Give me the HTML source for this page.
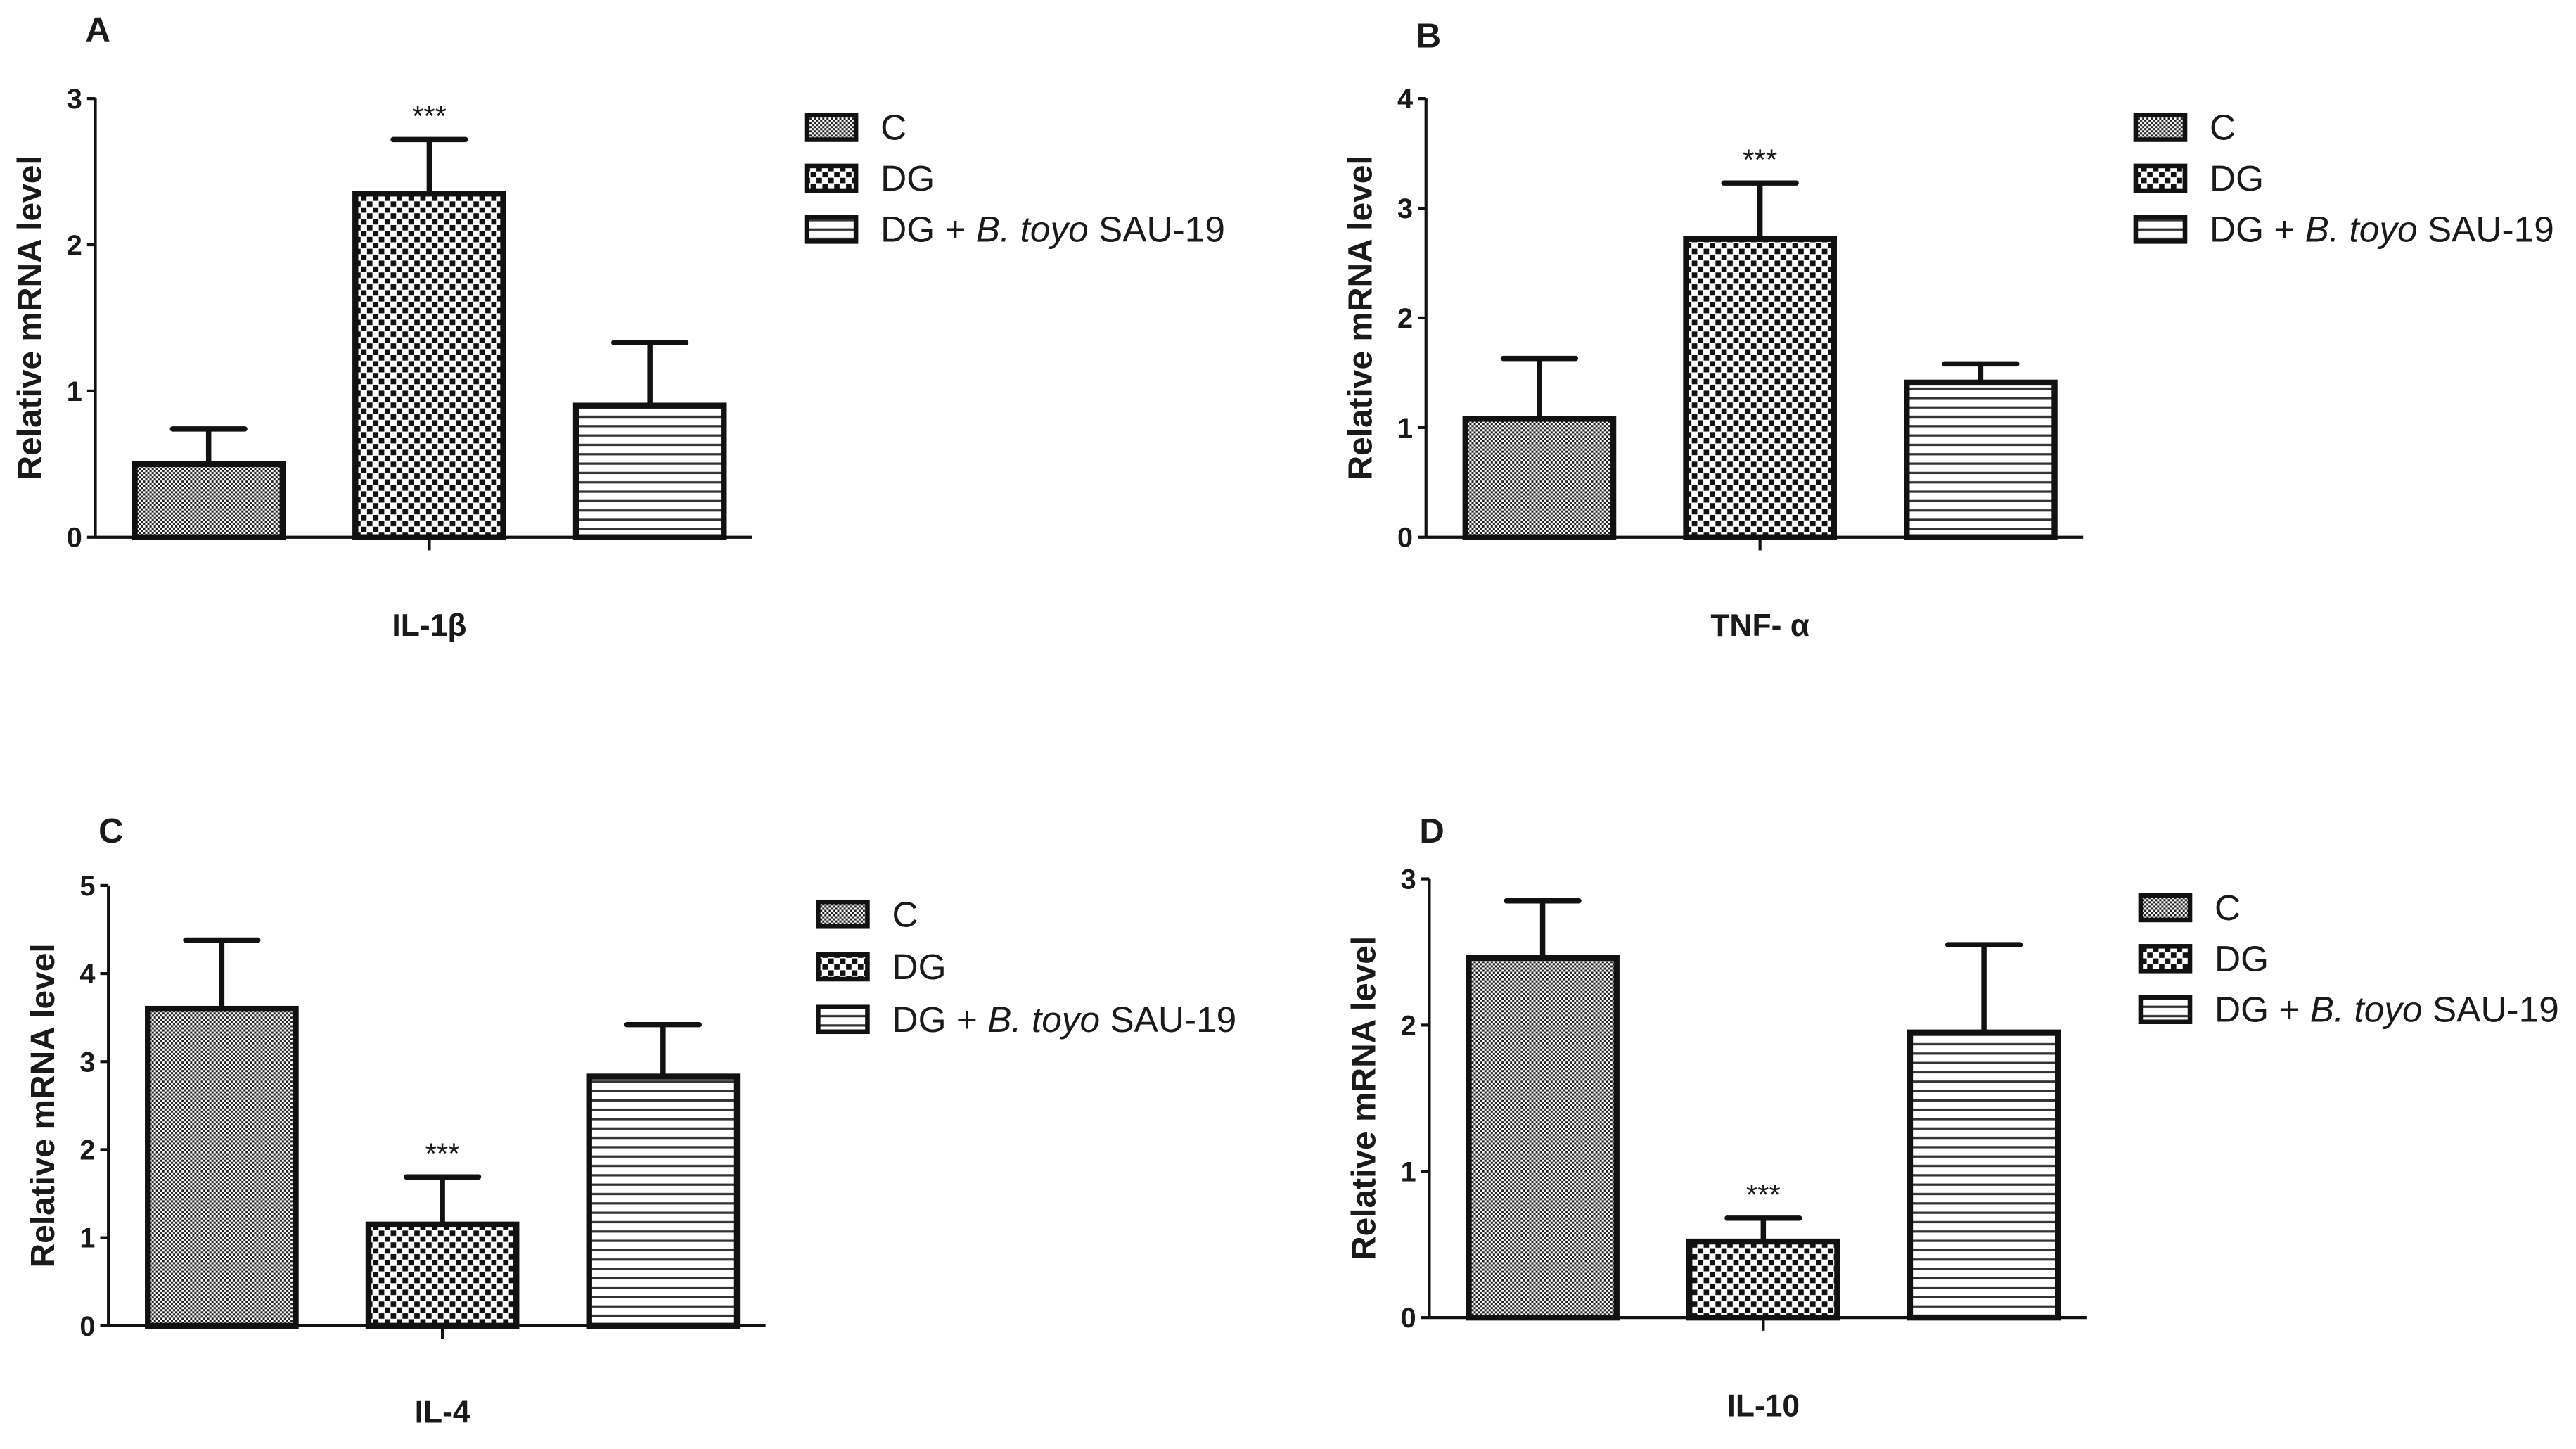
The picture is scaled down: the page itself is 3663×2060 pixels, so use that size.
<!DOCTYPE html>
<html><head><meta charset="utf-8"><style>
html,body{margin:0;padding:0;background:#fff;}
svg{display:block;}
text{font-family:"Liberation Sans",Arial,sans-serif;fill:#1a1a1a;}
</style></head><body>
<svg id="fig" width="3663" height="2060" viewBox="0 0 1568 882" preserveAspectRatio="none" xmlns="http://www.w3.org/2000/svg">
<defs>
<pattern id="patC" width="2.6" height="2.6" patternUnits="userSpaceOnUse"><rect width="2.6" height="2.6" fill="#fff"/><rect width="1.3" height="1.3" fill="#222"/><rect x="1.3" y="1.3" width="1.3" height="1.3" fill="#222"/></pattern>
<pattern id="patDG" width="7.2" height="7.2" patternUnits="userSpaceOnUse"><rect width="7.2" height="7.2" fill="#fff"/><rect x="0.2" y="0.2" width="3.3" height="3.3" fill="#111"/><rect x="3.8" y="3.8" width="3.3" height="3.3" fill="#111"/></pattern>
<pattern id="patB" width="6" height="5.7" patternUnits="userSpaceOnUse"><rect width="6" height="5.7" fill="#fff"/><rect y="2.2" width="6" height="1.4" fill="#333"/></pattern>
</defs>
</svg>
<script>
const groups = ["C","DG","DG + B. toyo SAU-19"];
const valuesA = [0.5, 2.35, 0.9];
const errorsA = [0.74, 2.72, 1.33];
const valuesB = [1.08, 2.72, 1.41];
const errorsB = [1.63, 3.23, 1.58];
const valuesC = [3.6, 1.15, 2.83];
const errorsC = [4.38, 1.69, 3.42];
const valuesD = [2.46, 0.52, 1.95];
const errorsD = [2.85, 0.68, 2.55];
const ticksA = [0,1,2,3];
const ticksB = [0,1,2,3,4];
const ticksC = [0,1,2,3,4,5];
const ticksD = [0,1,2,3];
const categoryA = "IL-1β", categoryB = "TNF- α", categoryC = "IL-4", categoryD = "IL-10";
const sigIndex = 1;

const NS="http://www.w3.org/2000/svg";
const svg=document.getElementById('fig');
function mk(tag,attrs,parent){const e=document.createElementNS(NS,tag);for(const k in attrs)e.setAttribute(k,attrs[k]);(parent||svg).appendChild(e);return e;}
const pats=["url(#patC)","url(#patDG)","url(#patB)"];

function panel(id,letter,ax,top,bot,ticks,vals,errs,cat,lx,ly,lgap,labelY,letterY){
  const g=mk('g',{});
  
  
  const max=ticks[ticks.length-1];
  const y=v=>bot-(v/max)*(bot-top);
  const xb=i=>ax+24+i*134.3;
  const bw=90;
  const L=mk('text',{x:ax-6,y:letterY,'font-size':21,'font-weight':'bold'},g);L.textContent=letter;
  
  
  const yax=mk('line',{x1:ax,y1:top,x2:ax,y2:bot,stroke:'#111','stroke-width':1.8},g);
  
  
  ticks.forEach(t=>{
    mk('line',{x1:ax-5,y1:y(t),x2:ax,y2:y(t),stroke:'#111','stroke-width':1.8},g);
    const tx=mk('text',{x:ax-8,y:y(t)+6,'font-size':17,'font-weight':'bold','text-anchor':'end'},g);tx.textContent=t;
    
    
  });
  const yt=mk('text',{transform:`translate(${ax-33},${(top+bot)/2}) rotate(-90)`,'font-size':20.5,'font-weight':'bold','text-anchor':'middle'},g);
  yt.textContent='Relative mRNA level';
  
  
  vals.forEach((v,i)=>{
    const x0=xb(i),cx=x0+bw/2;
    const et=y(errs[i]);
    const eb=mk('line',{x1:cx,y1:et,x2:cx,y2:y(v),stroke:'#111','stroke-width':3.2},g);
    
    
    const ec=mk('line',{x1:cx-22,y1:et,x2:cx+22,y2:et,stroke:'#111','stroke-width':3.2,'stroke-linecap':'round'},g);
    
    
    const r=mk('rect',{x:x0,y:y(v),width:bw,height:bot-y(v),fill:pats[i],stroke:'#111','stroke-width':3.6},g);
    
    
    if(i===sigIndex){
      const s=mk('text',{x:cx,y:et-8,'font-size':18,'text-anchor':'middle'},g);s.textContent='***';
      
      
    }
  });
  const xax=mk('line',{x1:ax,y1:bot,x2:ax+400,y2:bot,stroke:'#111','stroke-width':1.8},g);
  
  
  const mid=xb(1)+bw/2;
  mk('line',{x1:mid,y1:bot,x2:mid,y2:bot+8,stroke:'#111','stroke-width':1.8},g);
  const cl=mk('text',{x:mid,y:labelY,'font-size':19,'font-weight':'bold','text-anchor':'middle'},g);cl.textContent=cat;
  
  
  groups.forEach((n,i)=>{
    const ry=ly+i*lgap;
    const lg=mk('g',{},g);
    
    
    mk('rect',{x:lx,y:ry-7,width:30,height:15,fill:pats[i],stroke:'#111','stroke-width':2.8},lg);
    const t=mk('text',{x:lx+45,y:ry+8,'font-size':22},lg);
    if(i===2){t.innerHTML='DG + <tspan font-style="italic">B. toyo</tspan> SAU-19';}else t.textContent=n;
  });
}
panel('a','A',58,60,327,ticksA,valuesA,errorsA,categoryA,491,77,31,387,25);
panel('b','B',868,60,327,ticksB,valuesB,errorsB,categoryB,1300,77,31,387,29);
panel('c','C',66,539,807,ticksC,valuesC,errorsC,categoryC,498,556,32,866,513);
panel('d','D',870,535,802,ticksD,valuesD,errorsD,categoryD,1303,552,31,862,513);
</script>
</body></html>
